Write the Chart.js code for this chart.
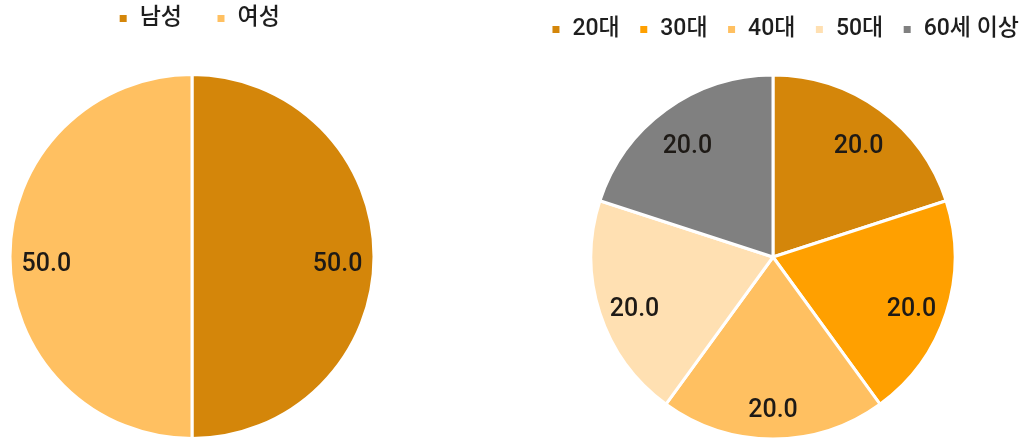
<!DOCTYPE html>
<html lang="ko">
<head>
<meta charset="utf-8">
<script src="https://cdn.jsdelivr.net/npm/chart.js@4/dist/chart.umd.min.js"></script>
<style>
  html, body { margin: 0; padding: 0; background: #ffffff; overflow: hidden; }
  body { width: 1032px; height: 443px; position: relative; }
  .box { position: absolute; top: 0; }
  #genderBox { left: 0; width: 384px; height: 446px; }
  #ageBox { left: 473px; width: 600px; height: 462px; }
</style>
</head>
<body>
<div class="box" id="genderBox"><canvas id="genderChart"></canvas></div>
<div class="box" id="ageBox"><canvas id="ageChart"></canvas></div>
<script>
// 성별 구성 (%)
const genderLabels = ['남성', '여성'];
const genderValues = [50.0, 50.0];
const genderColors = ['#D4860A', '#FFC061'];

// 연령대 구성 (%)
const ageLabels = ['20대', '30대', '40대', '50대', '60세 이상'];
const ageValues = [20.0, 20.0, 20.0, 20.0, 20.0];
const ageColors = ['#D4860A', '#FFA000', '#FFC061', '#FFE0B2', '#808080'];

const FONT = "Roboto, 'Noto Sans CJK KR', sans-serif";

// Writes each slice's value inside the slice
const sliceValues = {
  id: 'sliceValues',
  afterDatasetsDraw(chart) {
    const ctx = chart.ctx;
    const meta = chart.getDatasetMeta(0);
    const data = chart.data.datasets[0].data;
    ctx.save();
    ctx.font = '500 25px ' + FONT;
    ctx.fillStyle = '#1e1a16';
    ctx.textAlign = 'center';
    ctx.textBaseline = 'middle';
    meta.data.forEach((arc, i) => {
      const p = arc.getProps(['x', 'y', 'startAngle', 'endAngle', 'outerRadius'], true);
      const mid = (p.startAngle + p.endAngle) / 2;
      const r = p.outerRadius * 0.80;
      ctx.fillText(Number(data[i]).toFixed(1), p.x + Math.cos(mid) * r, p.y + Math.sin(mid) * r + 8);
    });
    ctx.restore();
  }
};

// Nudges the legend block after layout
const legendNudge = {
  id: 'legendNudge',
  afterLayout(chart, args, opts) {
    const lg = chart.legend;
    if (!lg) return;
    const dx = opts.dx || 0, dy = opts.dy || 0;
    lg.left += dx; lg.right += dx;
    lg.top += dy; lg.bottom += dy;
  }
};

function makePie(id, labels, values, colors, gap, nudge) {
  return new Chart(document.getElementById(id), {
    type: 'pie',
    data: {
      labels: labels,
      datasets: [{
        data: values,
        backgroundColor: colors,
        borderColor: '#ffffff',
        borderWidth: 3
      }]
    },
    options: {
      responsive: true,
      maintainAspectRatio: false,
      animation: false,
      radius: 182,
      layout: { padding: 0 },
      plugins: {
        legend: {
          position: 'top',
          labels: {
            boxWidth: 10,
            boxHeight: 10,
            padding: gap,
            color: '#1e1e1e',
            font: { family: FONT, size: 23, weight: '500' }
          }
        },
        tooltip: { enabled: false },
        legendNudge: nudge
      }
    },
    plugins: [sliceValues, legendNudge]
  });
}

makePie('genderChart', genderLabels, genderValues, genderColors, 34, { dx: 7, dy: -27 });
makePie('ageChart', ageLabels, ageValues, ageColors, 19, { dx: 12, dy: -1 });
</script>
</body>
</html>
